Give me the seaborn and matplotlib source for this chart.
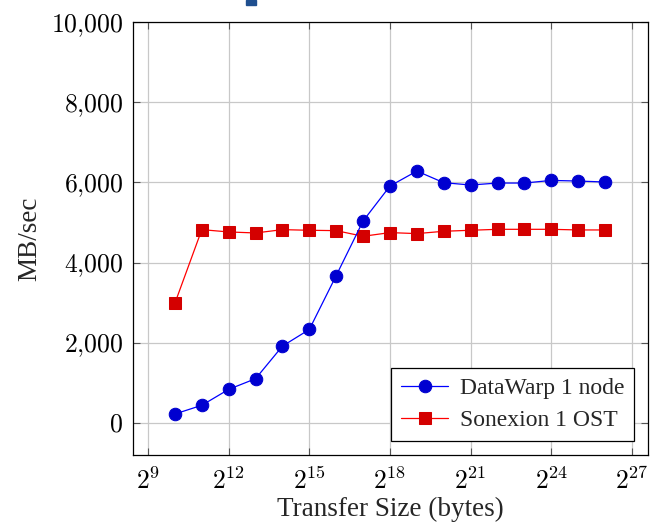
import numpy as np
import pandas as pd
import matplotlib
matplotlib.use("Agg")
import matplotlib.pyplot as plt
from matplotlib.ticker import FuncFormatter, NullLocator, FixedLocator
from matplotlib.patches import Rectangle
import seaborn as sns

# transfer sizes as powers of two
exponents = list(range(10, 27))
datawarp_mbs = [224, 440, 838, 1104, 1917, 2332, 3677, 5038, 5910, 6283,
                5993, 5935, 5984, 5984, 6050, 6034, 6010]
sonexion_mbs = [2988, 4822, 4764, 4739, 4822, 4806, 4797, 4656, 4748, 4723,
                4781, 4806, 4830, 4830, 4830, 4814, 4814]
xtick_exps = [9, 12, 15, 18, 21, 24, 27]
ytick_vals = [0, 2000, 4000, 6000, 8000, 10000]

sizes = [2 ** e for e in exponents]
dw = pd.DataFrame({"size": sizes, "mbs": datawarp_mbs})
sx = pd.DataFrame({"size": sizes, "mbs": sonexion_mbs})

sns.set_theme(style="ticks")
plt.rcParams["font.family"] = ["Liberation Serif", "DejaVu Serif"]
plt.rcParams["mathtext.fontset"] = "cm"

fig = plt.figure(figsize=(6.5, 5.25), dpi=100)
ax = fig.add_axes([0.2046, 0.1333, 0.7924, 0.8247])

sns.lineplot(data=sx, x="size", y="mbs", ax=ax, color="#ff0000", lw=0.9,
             marker="s", markersize=8, markerfacecolor="#d40000",
             markeredgecolor="#d40000", label="Sonexion 1 OST", zorder=3)
sns.lineplot(data=dw, x="size", y="mbs", ax=ax, color="#0000ff", lw=0.9,
             marker="o", markersize=9, markerfacecolor="#0000d0",
             markeredgecolor="#0000d0", label="DataWarp 1 node", zorder=4)

ax.set_xscale("log", base=2)
ax.set_xlim(2 ** 8.44, 2 ** 27.6)
ax.set_ylim(-800, 10000)
ax.xaxis.set_major_locator(FixedLocator([2 ** e for e in xtick_exps]))
ax.xaxis.set_minor_locator(NullLocator())
ax.set_xticklabels([f"$2^{{{e}}}$" for e in xtick_exps])
ax.yaxis.set_major_locator(FixedLocator(ytick_vals))
ax.yaxis.set_major_formatter(
    FuncFormatter(lambda v, p: "$" + f"{int(v):,}".replace(",", "{,}") + "$"))

ax.grid(True, color="#c8c8c8", lw=0.9)
ax.tick_params(direction="in", top=True, right=True, length=5, width=0.8,
               color="#555555", labelsize=18.5, labelcolor="black")
ax.tick_params(axis="y", pad=7)
ax.tick_params(axis="x", pad=9)
for s in ax.spines.values():
    s.set_color("black")
    s.set_linewidth(0.9)

ax.set_xlabel("Transfer Size (bytes)", fontsize=19.5, labelpad=2)
ax.set_ylabel("MB/sec", fontsize=19.5, labelpad=6)

handles, labels = ax.get_legend_handles_labels()
order = [labels.index("DataWarp 1 node"), labels.index("Sonexion 1 OST")]
leg = ax.legend([handles[i] for i in order], [labels[i] for i in order],
                loc="lower right", fontsize=17, fancybox=False, framealpha=1,
                edgecolor="black", borderaxespad=0.6, handlelength=2.0,
                borderpad=0.4, labelspacing=0.45, handletextpad=0.5)
leg.get_frame().set_linewidth(0.9)

# small cropped artifact at the top edge of the original image
fig.patches.append(Rectangle((246 / 650, 1 - 5 / 525), 10 / 650, 5 / 525,
                             transform=fig.transFigure, color="#1f4f8f"))

fig.savefig("out.png", dpi=100)
